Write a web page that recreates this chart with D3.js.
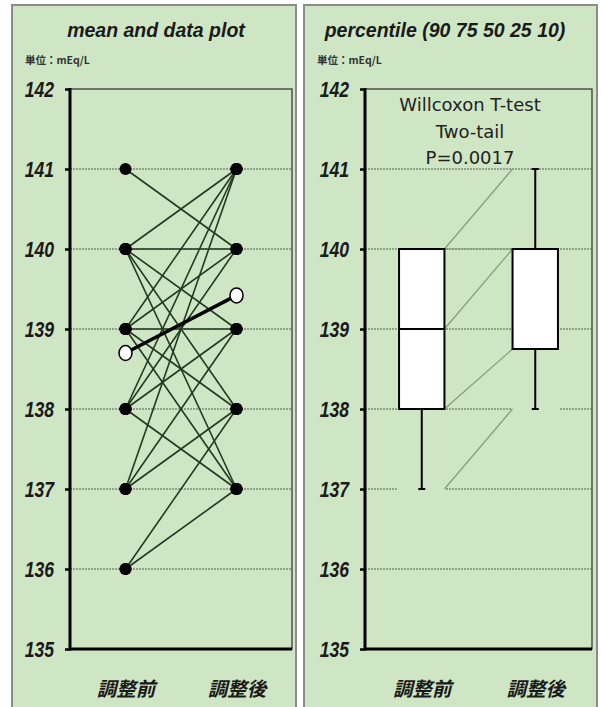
<!DOCTYPE html>
<html>
<head>
<meta charset="utf-8">
<script src="https://cdn.jsdelivr.net/npm/d3@7/dist/d3.min.js"></script>
<style>
body { margin: 0; background: #fff; }
svg { display: block; }
</style>
</head>
<body>
<div id="chart-area"></div>
<script>
var width = 601;
var height = 707;

// data
var categories = ["調整前", "調整後"];
var yTicks = [135, 136, 137, 138, 139, 140, 141, 142];
var beforeVals = [141, 140, 140, 140, 140, 140, 139, 139, 139, 139, 139, 138, 138, 138, 138, 137, 137, 137, 136, 136];
var afterVals  = [140, 141, 140, 139, 138, 137, 141, 140, 139, 138, 137, 141, 140, 139, 137, 141, 139, 138, 138, 137];
var meanVals = [138.7, 139.42];
var p10 = [137, 138];
var p25 = [138, 138.75];
var p50 = [139, 140];
var p75 = [140, 140];
var p90 = [140, 141];
var testText = ["Willcoxon T-test", "Two-tail", "P=0.0017"];
var titles = ["mean and data plot", "percentile (90 75 50 25 10)"];
var unitText = "単位：mEq/L";

var bg = "#cfe6c5";
var latin = "'Liberation Sans', Arial, sans-serif";
var cjk = "'Noto Sans CJK JP', 'Noto Sans CJK SC', sans-serif";

var svg = d3.select("#chart-area").append("svg")
	.attr("width", width)
	.attr("height", height);

var y = d3.scaleLinear().domain([135, 142]).range([649, 89]);

// fake a narrow face by squeezing the glyphs
function narrow(sel, k) {
	sel.each(function() {
		var w = this.getComputedTextLength();
		d3.select(this).attr("textLength", w * k).attr("lengthAdjust", "spacingAndGlyphs");
	});
}

function panel(px, pw, title, tx) {
	svg.append("rect")
		.attr("x", px).attr("y", 5)
		.attr("width", pw).attr("height", height)
		.attr("fill", bg)
		.attr("stroke", "#8c8c8c")
		.attr("stroke-width", 2);
	svg.append("text")
		.attr("x", tx).attr("y", 37)
		.attr("text-anchor", "middle")
		.attr("font-family", latin)
		.attr("font-size", "19.5px")
		.attr("font-weight", "bold")
		.attr("font-style", "italic")
		.style("fill", "#1a1a1a")
		.text(title);
	svg.append("text")
		.attr("x", px + 13).attr("y", 64)
		.attr("font-family", cjk)
		.attr("font-size", "10.5px")
		.attr("font-weight", "bold")
		.style("fill", "#333")
		.text(unitText);
}

function frame(x0, x1) {
	svg.append("rect")
		.attr("x", x0).attr("y", y(142))
		.attr("width", x1 - x0).attr("height", y(135) - y(142))
		.attr("fill", bg)
		.attr("stroke", "#3c3c3c")
		.attr("stroke-width", 1.3);
}

function grid(x0, x1) {
	svg.append("g").selectAll("line")
		.data(yTicks.filter(function(d) { return d > 135 && d < 142; }))
		.enter().append("line")
		.attr("x1", x0).attr("x2", x1)
		.attr("y1", function(d) { return y(d); })
		.attr("y2", function(d) { return y(d); })
		.attr("stroke", "#4f5f4f")
		.attr("stroke-width", 1.1)
		.attr("stroke-dasharray", "2,1");
}

function axes(x0, x1, xs) {
	var leftAxis = d3.axisLeft(y).tickValues(yTicks).tickSize(5).tickSizeOuter(0).tickPadding(11)
		.tickFormat(d3.format("d"));
	var ga = svg.append("g")
		.attr("transform", "translate(" + x0 + ",0)")
		.call(leftAxis);
	ga.select(".domain").remove();
	ga.selectAll(".tick line").attr("stroke", "#000").attr("stroke-width", 2.5);
	ga.selectAll(".tick text")
		.attr("font-family", latin)
		.attr("font-size", "22px")
		.attr("font-weight", "bold")
		.attr("font-style", "italic")
		.attr("fill", "#1a1a1a")
		.call(narrow, 0.8);

	svg.append("line")
		.attr("x1", x0).attr("x2", x0)
		.attr("y1", y(142) - 1).attr("y2", y(135) + 1.5)
		.attr("stroke", "#000").attr("stroke-width", 3);
	svg.append("line")
		.attr("x1", x0).attr("x2", x1)
		.attr("y1", y(135)).attr("y2", y(135))
		.attr("stroke", "#000").attr("stroke-width", 3);

	var bottomAxis = d3.axisBottom(xs).tickSize(0).tickPadding(33);
	var gb = svg.append("g")
		.attr("transform", "translate(0," + y(135) + ")")
		.call(bottomAxis);
	gb.select(".domain").remove();
	gb.selectAll(".tick text")
		.attr("font-family", cjk)
		.attr("font-size", "19.5px")
		.attr("font-weight", "bold")
		.attr("font-style", "italic")
		.attr("fill", "#1a1a1a");
}

// ---------- left : mean and data plot ----------
panel(12, 284, titles[0], 156);
var lx0 = 70, lx1 = 292;
var x = d3.scalePoint().domain(categories).range([lx0, lx1]).padding(0.5);
frame(lx0, lx1);
grid(lx0, lx1);

svg.append("g").selectAll("line")
	.data(beforeVals)
	.enter().append("line")
	.attr("x1", x(categories[0]))
	.attr("x2", x(categories[1]))
	.attr("y1", function(d) { return y(d); })
	.attr("y2", function(d, i) { return y(afterVals[i]); })
	.attr("stroke", "#223a22")
	.attr("stroke-width", 1.6);

var dots = [];
beforeVals.forEach(function(d) { dots.push({c: categories[0], v: d}); });
afterVals.forEach(function(d) { dots.push({c: categories[1], v: d}); });
svg.append("g").selectAll("circle")
	.data(dots)
	.enter().append("circle")
	.attr("cx", function(d) { return x(d.c); })
	.attr("cy", function(d) { return y(d.v); })
	.attr("r", 6)
	.attr("fill", "#000");

svg.append("line")
	.attr("x1", x(categories[0])).attr("x2", x(categories[1]))
	.attr("y1", y(meanVals[0])).attr("y2", y(meanVals[1]))
	.attr("stroke", "#000")
	.attr("stroke-width", 3.5);
svg.append("g").selectAll("ellipse")
	.data(meanVals)
	.enter().append("ellipse")
	.attr("cx", function(d, i) { return x(categories[i]); })
	.attr("cy", function(d) { return y(d); })
	.attr("rx", 6.5).attr("ry", 7.5)
	.attr("fill", "#fff")
	.attr("stroke", "#000")
	.attr("stroke-width", 1.5);

axes(lx0, lx1, x);

// ---------- right : percentile box plot ----------
panel(304, 293, titles[1], 445);
var rx0 = 365, rx1 = 592;
var xb = d3.scaleBand().domain(categories).range([rx0, rx1]).paddingInner(0.6).paddingOuter(0.3);
var xr = d3.scalePoint().domain(categories).range([rx0, rx1]).padding(0.5);
var bw = xb.bandwidth();
frame(rx0, rx1);
grid(rx0, rx1);

var stats = categories.map(function(c, i) {
	return {c: c, p10: p10[i], p25: p25[i], p50: p50[i], p75: p75[i], p90: p90[i]};
});

// whisker segment of the stack is filled with the plot colour
svg.append("g").selectAll("rect")
	.data(stats)
	.enter().append("rect")
	.attr("x", function(d) { return xb(d.c) - 1; })
	.attr("width", bw + 2)
	.attr("y", function(d) { return y(d.p25); })
	.attr("height", function(d) { return y(d.p10) - y(d.p25) + 1.5; })
	.attr("fill", bg);

// series lines between the two stacks
var levels = [p10, p25, p50, p75, p90];
svg.append("g").selectAll("line")
	.data(levels)
	.enter().append("line")
	.attr("x1", xb(categories[0]) + bw)
	.attr("x2", xb(categories[1]))
	.attr("y1", function(d) { return y(d[0]); })
	.attr("y2", function(d) { return y(d[1]); })
	.attr("stroke", "#7f9c78")
	.attr("stroke-width", 1.2);

var wg = svg.append("g").attr("stroke", "#000").attr("stroke-width", 2);
stats.forEach(function(d) {
	var cx = xb(d.c) + bw / 2;
	if (d.p10 < d.p25) {
		wg.append("line").attr("x1", cx).attr("x2", cx).attr("y1", y(d.p25)).attr("y2", y(d.p10));
		wg.append("line").attr("x1", cx - 3.5).attr("x2", cx + 3.5).attr("y1", y(d.p10)).attr("y2", y(d.p10));
	}
	if (d.p90 > d.p75) {
		wg.append("line").attr("x1", cx).attr("x2", cx).attr("y1", y(d.p75)).attr("y2", y(d.p90));
		wg.append("line").attr("x1", cx - 3.5).attr("x2", cx + 3.5).attr("y1", y(d.p90)).attr("y2", y(d.p90));
	}
});

svg.append("g").selectAll("rect")
	.data(stats)
	.enter().append("rect")
	.attr("x", function(d) { return xb(d.c); })
	.attr("width", bw)
	.attr("y", function(d) { return y(d.p75); })
	.attr("height", function(d) { return y(d.p25) - y(d.p75); })
	.attr("fill", "#fff")
	.attr("stroke", "#000")
	.attr("stroke-width", 2);
svg.append("g").selectAll("line")
	.data(stats)
	.enter().append("line")
	.attr("x1", function(d) { return xb(d.c); })
	.attr("x2", function(d) { return xb(d.c) + bw; })
	.attr("y1", function(d) { return y(d.p50); })
	.attr("y2", function(d) { return y(d.p50); })
	.attr("stroke", "#000")
	.attr("stroke-width", 2);

svg.append("g").selectAll("text")
	.data(testText)
	.enter().append("text")
	.attr("x", 470)
	.attr("y", function(d, i) { return 111 + i * 26.5; })
	.attr("text-anchor", "middle")
	.attr("font-family", "'DejaVu Sans', Verdana, sans-serif")
	.attr("font-size", "18px")
	.style("fill", "#222")
	.text(function(d) { return d; });

axes(rx0, rx1, xr);
</script>
</body>
</html>
